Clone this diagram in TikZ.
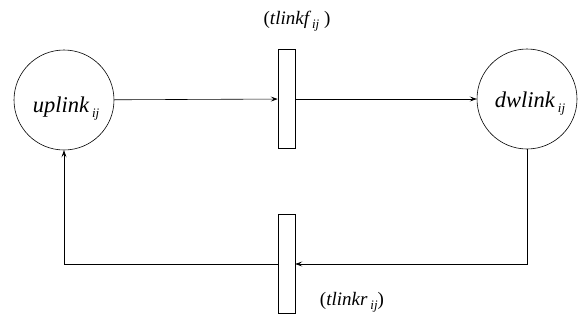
\documentclass[tikz,border=0pt]{standalone}
\usepackage{fontspec}
\setmainfont{Liberation Serif}[ItalicFont={Liberation Serif Italic}]
\usetikzlibrary{arrows.meta}
\newcommand{\lbl}[2]{\textit{#1\hspace{3pt}\raisebox{-0.55ex}{\fontsize{13}{13}\selectfont #2}}}
\begin{document}
\begin{tikzpicture}[x=1pt,y=-1pt,
  place/.style={draw,circle,minimum size=100pt,inner sep=0pt,line width=0.6pt},
  trans/.style={draw,rectangle,minimum width=17pt,minimum height=99pt,inner sep=0pt,line width=0.6pt},
  arc/.style={line width=0.6pt,-{Stealth[length=7pt,width=5pt,inset=3pt]}},
  ptext/.style={font=\fontsize{22.5}{22.5}\selectfont,inner sep=0pt,anchor=base},
  lab/.style={font=\fontsize{19}{19}\selectfont,inner sep=0pt,anchor=base}]
\useasboundingbox (0,0) rectangle (580,322);
\node[place] (u) at (64,100) {};
\node[place] (d) at (527,99) {};
\node[ptext] (ut) at (66,112) {\lbl{uplink}{ij}};
\node[ptext] (dt) at (530,107) {\lbl{dwlink}{ij}};
\node[trans] (t1) at (286.5,99) {};
\node[trans] (t2) at (286.5,264) {};
\node[lab] (l1) at (297,24) {(\lbl{tlinkf}{ij}\ )};
\node[lab] (l2) at (352,305) {(\lbl{tlinkr}{ij})};
\draw[arc] (u) -- (t1);
\draw[arc] (t1) -- (d);
\draw[arc] (d.south) |- (t2.east);
\draw[arc] (t2.west) -| (u.south);
\end{tikzpicture}
\end{document}
